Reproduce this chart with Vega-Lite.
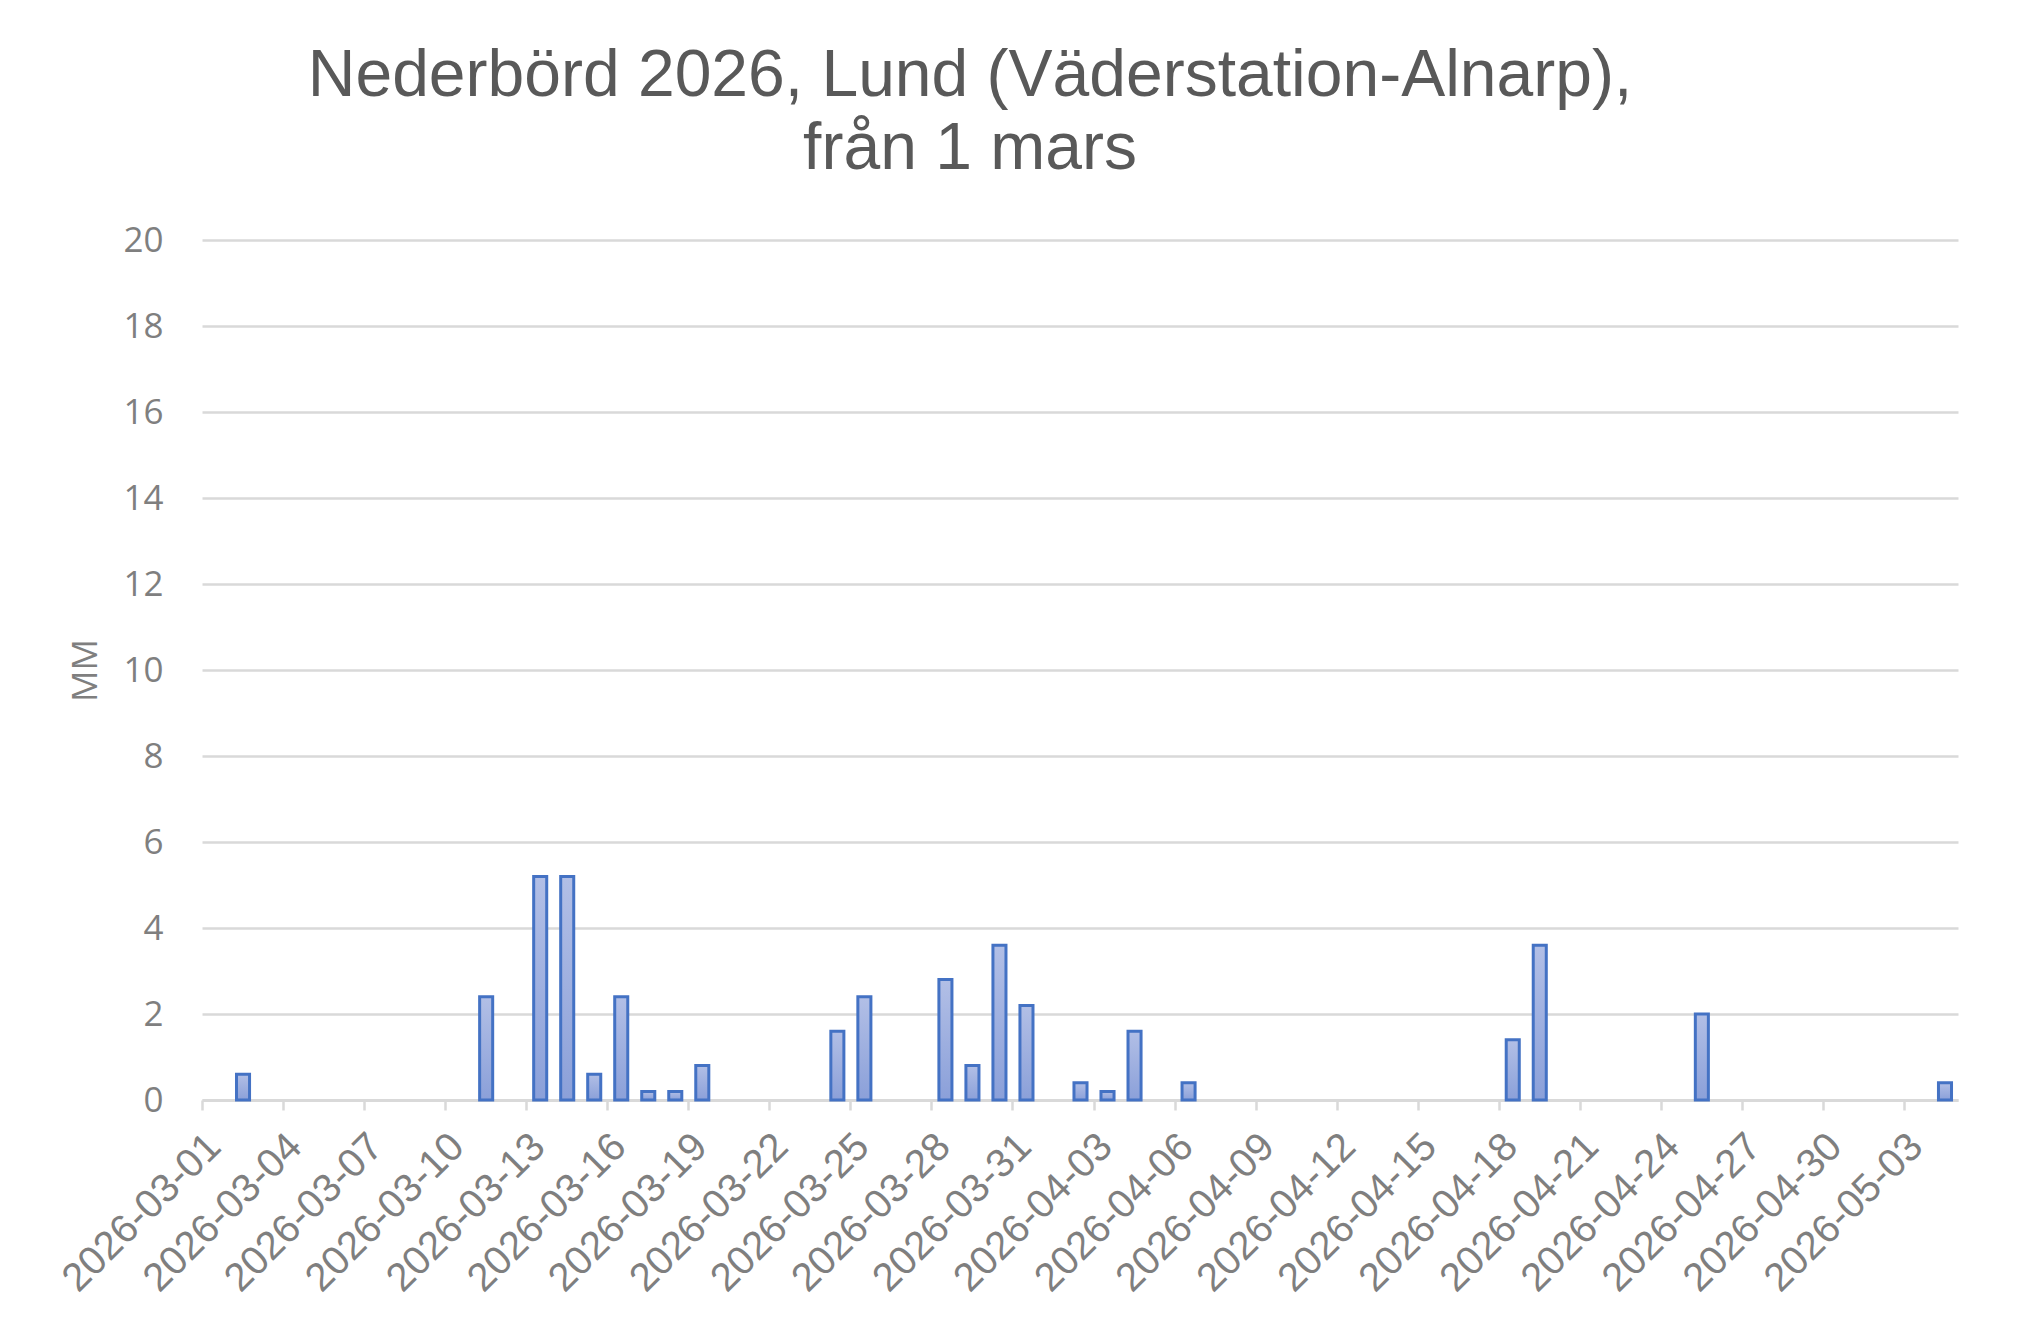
{
  "$schema": "https://vega.github.io/schema/vega-lite/v6.json",
  "autosize": {"type": "none"},
  "padding": {"left": 202, "top": 240, "right": 70, "bottom": 238},
  "width": 1756,
  "height": 860,
  "background": "white",
  "config": {"view": {"stroke": "transparent"}},
  "title": {
    "text": ["Nederbörd 2026, Lund (Väderstation-Alnarp),", "från 1 mars"],
    "font": "Liberation Sans",
    "fontSize": 66,
    "fontWeight": "normal",
    "color": "#595959",
    "lineHeight": 73,
    "anchor": "middle",
    "dx": -110,
    "offset": 40
  },
  "data": {
    "values": [
      {"date": "2026-03-02", "mm": 0.6},
      {"date": "2026-03-11", "mm": 2.4},
      {"date": "2026-03-13", "mm": 5.2},
      {"date": "2026-03-14", "mm": 5.2},
      {"date": "2026-03-15", "mm": 0.6},
      {"date": "2026-03-16", "mm": 2.4},
      {"date": "2026-03-17", "mm": 0.2},
      {"date": "2026-03-18", "mm": 0.2},
      {"date": "2026-03-19", "mm": 0.8},
      {"date": "2026-03-24", "mm": 1.6},
      {"date": "2026-03-25", "mm": 2.4},
      {"date": "2026-03-28", "mm": 2.8},
      {"date": "2026-03-29", "mm": 0.8},
      {"date": "2026-03-30", "mm": 3.6},
      {"date": "2026-03-31", "mm": 2.2},
      {"date": "2026-04-02", "mm": 0.4},
      {"date": "2026-04-03", "mm": 0.2},
      {"date": "2026-04-04", "mm": 1.6},
      {"date": "2026-04-06", "mm": 0.4},
      {"date": "2026-04-18", "mm": 1.4},
      {"date": "2026-04-19", "mm": 3.6},
      {"date": "2026-04-25", "mm": 2.0},
      {"date": "2026-05-04", "mm": 0.4}
    ]
  },
  "mark": {
    "type": "bar",
    "width": {"band": 0.52},
    "fill": {
      "gradient": "linear",
      "x1": 0, "y1": 0, "x2": 0, "y2": 1,
      "stops": [
        {"offset": 0, "color": "#B2BFE6"},
        {"offset": 1, "color": "#8BA0D9"}
      ]
    },
    "stroke": "#4472C4",
    "strokeWidth": 3
  },
  "encoding": {
    "x": {
      "field": "date",
      "type": "temporal",
      "timeUnit": "utcyearmonthdate",
      "title": null,
      "scale": {
        "type": "utc",
        "domain": [
          {"year": 2026, "month": 3, "date": 1, "utc": true},
          {"year": 2026, "month": 5, "date": 5, "utc": true}
        ]
      },
      "axis": {
        "values": [
          {"year": 2026, "month": 3, "date": 1, "utc": true},
          {"year": 2026, "month": 3, "date": 4, "utc": true},
          {"year": 2026, "month": 3, "date": 7, "utc": true},
          {"year": 2026, "month": 3, "date": 10, "utc": true},
          {"year": 2026, "month": 3, "date": 13, "utc": true},
          {"year": 2026, "month": 3, "date": 16, "utc": true},
          {"year": 2026, "month": 3, "date": 19, "utc": true},
          {"year": 2026, "month": 3, "date": 22, "utc": true},
          {"year": 2026, "month": 3, "date": 25, "utc": true},
          {"year": 2026, "month": 3, "date": 28, "utc": true},
          {"year": 2026, "month": 3, "date": 31, "utc": true},
          {"year": 2026, "month": 4, "date": 3, "utc": true},
          {"year": 2026, "month": 4, "date": 6, "utc": true},
          {"year": 2026, "month": 4, "date": 9, "utc": true},
          {"year": 2026, "month": 4, "date": 12, "utc": true},
          {"year": 2026, "month": 4, "date": 15, "utc": true},
          {"year": 2026, "month": 4, "date": 18, "utc": true},
          {"year": 2026, "month": 4, "date": 21, "utc": true},
          {"year": 2026, "month": 4, "date": 24, "utc": true},
          {"year": 2026, "month": 4, "date": 27, "utc": true},
          {"year": 2026, "month": 4, "date": 30, "utc": true},
          {"year": 2026, "month": 5, "date": 3, "utc": true}
        ],
        "labelExpr": "utcFormat(datum.value, '%Y-%m-%d')",
        "grid": false,
        "domainColor": "#D9D9D9",
        "domainWidth": 3,
        "tickColor": "#D9D9D9",
        "tickWidth": 2.5,
        "tickSize": 10,
        "labelAngle": -45,
        "labelAlign": "right",
        "labelBaseline": "middle",
        "labelFont": "Liberation Sans",
        "labelFontSize": 40,
        "labelColor": "#7F7F7F",
        "labelPadding": 30,
        "labelOffset": 12,
        "labelLimit": 0,
        "labelOverlap": false,
        "labelFlush": false,
        "labelBound": false
      }
    },
    "y": {
      "field": "mm",
      "type": "quantitative",
      "title": "MM",
      "scale": {"domain": [0, 20], "nice": false},
      "axis": {
        "values": [0, 2, 4, 6, 8, 10, 12, 14, 16, 18, 20],
        "domain": false,
        "ticks": false,
        "gridColor": "#D9D9D9",
        "gridWidth": 2.5,
        "labelFont": "Open Sans",
        "labelFontSize": 35,
        "labelColor": "#7F7F7F",
        "labelPadding": 39,
        "titleFont": "Open Sans",
        "titleFontSize": 35,
        "titleFontWeight": "normal",
        "titleColor": "#7F7F7F",
        "titleAngle": 270,
        "titleX": -117,
        "titleY": 430,
        "titleAlign": "center",
        "titleBaseline": "middle"
      }
    }
  }
}
